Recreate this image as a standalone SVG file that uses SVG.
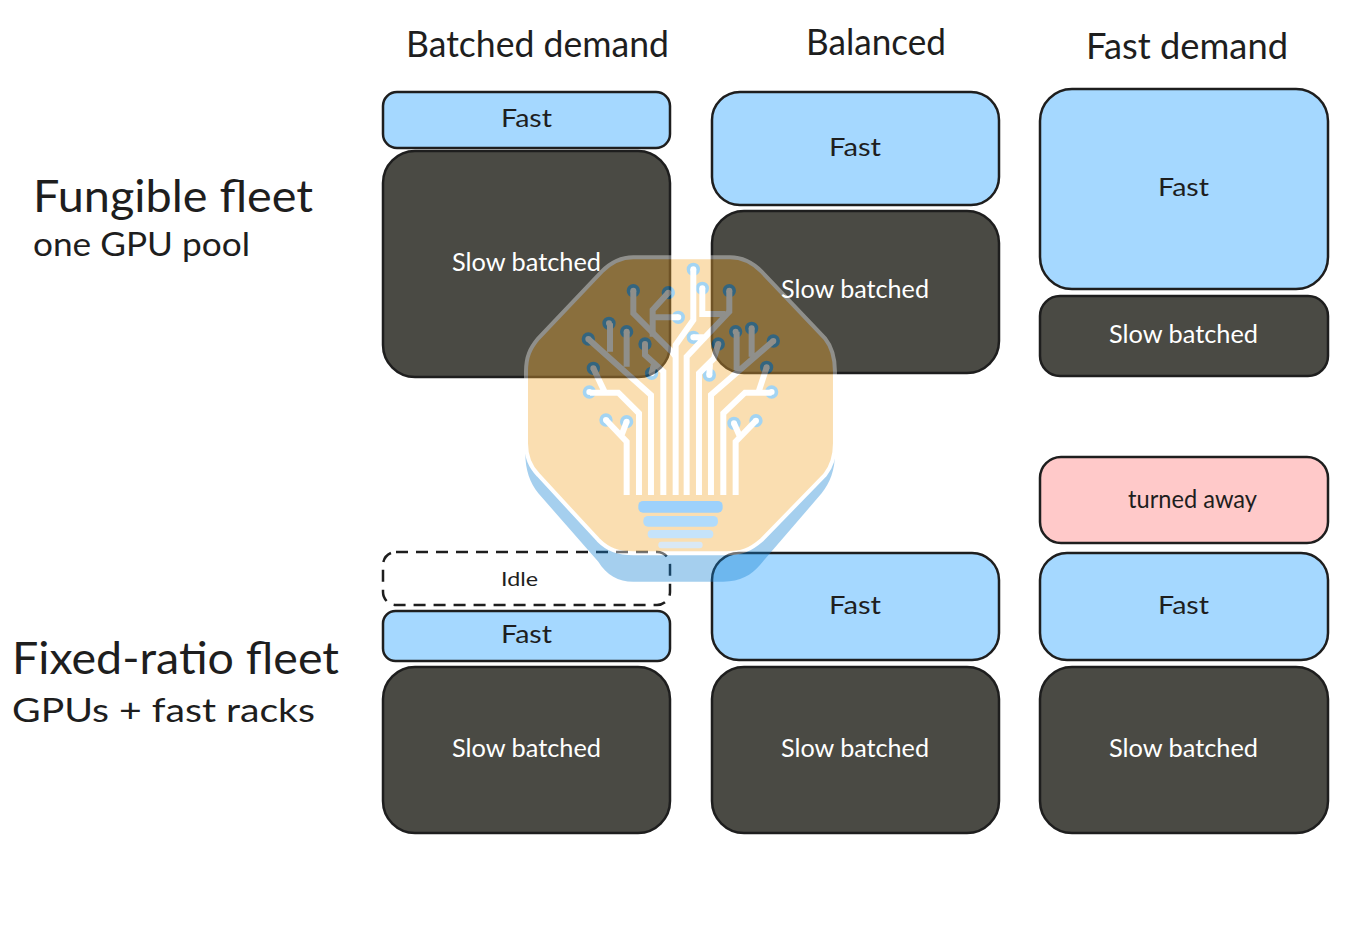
<svg xmlns="http://www.w3.org/2000/svg" width="1358" height="938" viewBox="0 0 1358 938">
<style>
text{font-family:"Lato","Open Sans",sans-serif;fill:#1e1e1e}
.h{font-size:36px}.s{font-size:44px}.u{font-size:33px}.l{font-size:25px}.w{fill:#fff}
.box{stroke:#1e1e1e;stroke-width:2.5}
.fast{fill:#a5d8ff}.slow{fill:#4a4a44}.away{fill:#ffc9c9}
.idle{fill:#fff;stroke-dasharray:12 8}
.tr{fill:none;stroke:#fff;stroke-width:18;stroke-linejoin:miter}
.nd{fill:#fff;stroke:#1091e0;stroke-width:11}
</style>
<rect width="1358" height="938" fill="#fff"/>
<g id="headers">
<text class="h" x="406" y="57" textLength="263" lengthAdjust="spacingAndGlyphs">Batched demand</text>
<text class="h" x="806" y="55" textLength="140" lengthAdjust="spacingAndGlyphs">Balanced</text>
<text class="h" x="1086" y="59" textLength="202" lengthAdjust="spacingAndGlyphs">Fast demand</text>
</g>
<g id="row-labels">
<text class="s" x="33" y="212" textLength="280" lengthAdjust="spacingAndGlyphs">Fungible fleet</text>
<text class="u" x="33" y="256" textLength="217" lengthAdjust="spacingAndGlyphs">one GPU pool</text>
<text class="s" x="12" y="674" textLength="327" lengthAdjust="spacingAndGlyphs">Fixed-ratio fleet</text>
<text class="u" x="12" y="722" textLength="303" lengthAdjust="spacingAndGlyphs">GPUs + fast racks</text>
</g>
<g id="fungible-batched">
<rect class="box fast" x="383" y="92" width="287" height="56" rx="14"/>
<text class="l" x="501" y="127" textLength="51" lengthAdjust="spacingAndGlyphs">Fast</text>
<rect class="box slow" x="383" y="151" width="287" height="226" rx="32"/>
<text class="l w" x="452" y="271" textLength="149" lengthAdjust="spacingAndGlyphs">Slow batched</text>
</g>
<g id="fungible-balanced">
<rect class="box fast" x="712" y="92" width="287" height="113" rx="28"/>
<text class="l" x="829" y="156" textLength="52" lengthAdjust="spacingAndGlyphs">Fast</text>
<rect class="box slow" x="712" y="211" width="287" height="162" rx="32"/>
<text class="l w" x="781" y="298" textLength="148" lengthAdjust="spacingAndGlyphs">Slow batched</text>
</g>
<g id="fungible-fast">
<rect class="box fast" x="1040" y="89" width="288" height="200" rx="32"/>
<text class="l" x="1158" y="196" textLength="51" lengthAdjust="spacingAndGlyphs">Fast</text>
<rect class="box slow" x="1040" y="296" width="288" height="80" rx="20"/>
<text class="l w" x="1109" y="343" textLength="149" lengthAdjust="spacingAndGlyphs">Slow batched</text>
</g>
<g id="fixed-batched">
<rect class="box idle" x="383" y="552" width="287" height="53" rx="13"/>
<text x="501" y="586" font-size="20" textLength="37" lengthAdjust="spacingAndGlyphs">Idle</text>
<rect class="box fast" x="383" y="611" width="287" height="50" rx="12.5"/>
<text class="l" x="501" y="643" textLength="51" lengthAdjust="spacingAndGlyphs">Fast</text>
<rect class="box slow" x="383" y="667" width="287" height="166" rx="32"/>
<text class="l w" x="452" y="757" textLength="149" lengthAdjust="spacingAndGlyphs">Slow batched</text>
</g>
<g id="fixed-balanced">
<rect class="box fast" x="712" y="553" width="287" height="107" rx="27"/>
<text class="l" x="829" y="614" textLength="52" lengthAdjust="spacingAndGlyphs">Fast</text>
<rect class="box slow" x="712" y="667" width="287" height="166" rx="32"/>
<text class="l w" x="781" y="757" textLength="148" lengthAdjust="spacingAndGlyphs">Slow batched</text>
</g>
<g id="fixed-fast">
<rect class="box away" x="1040" y="457" width="288" height="86" rx="21"/>
<text class="l" x="1128" y="508" textLength="129" lengthAdjust="spacingAndGlyphs">turned away</text>
<rect class="box fast" x="1040" y="553" width="288" height="107" rx="27"/>
<text class="l" x="1158" y="614" textLength="51" lengthAdjust="spacingAndGlyphs">Fast</text>
<rect class="box slow" x="1040" y="667" width="288" height="166" rx="32"/>
<text class="l w" x="1109" y="757" textLength="149" lengthAdjust="spacingAndGlyphs">Slow batched</text>
</g>
<g id="logo" opacity="0.38" transform="translate(510 240) scale(0.3333)">
<path fill="#1483d5" d="M46 640 C46 690 60 730 85 760 L265 965 C290 1005 325 1025 370 1025 L640 1025 C690 1025 725 1005 750 975 L935 760 C960 730 975 690 975 640 L975 500 L46 500Z"/>
<path fill="#f2ab34" stroke="#fff" stroke-width="12" d="M48 395 C48 350 60 325 85 295 L275 95 C300 70 330 52 370 52 L660 52 C700 52 730 70 755 95 L945 295 C965 320 975 350 975 395 L975 610 C975 650 965 680 945 705 L755 900 C720 930 695 940 650 940 L370 940 C325 940 295 930 265 900 L85 705 C60 680 48 650 48 610Z"/>
<g class="nd">
<circle cx="550" cy="88" r="14.5"/><circle cx="577" cy="145" r="14.5"/><circle cx="370" cy="152" r="14.5"/><circle cx="475" cy="158" r="14.5"/><circle cx="658" cy="152" r="14.5"/><circle cx="505" cy="232" r="14.5"/>
<circle cx="297" cy="250" r="14.5"/><circle cx="350" cy="275" r="14.5"/><circle cx="235" cy="297" r="14.5"/><circle cx="405" cy="312" r="14.5"/><circle cx="425" cy="400" r="14.5"/><circle cx="250" cy="385" r="14.5"/><circle cx="238" cy="456" r="14.5"/>
<circle cx="288" cy="540" r="14.5"/><circle cx="350" cy="545" r="14.5"/><circle cx="550" cy="292" r="14.5"/>
<circle cx="725" cy="265" r="14.5"/><circle cx="677" cy="275" r="14.5"/><circle cx="790" cy="303" r="14.5"/><circle cx="625" cy="312" r="14.5"/><circle cx="598" cy="405" r="14.5"/><circle cx="770" cy="382" r="14.5"/><circle cx="785" cy="456" r="14.5"/><circle cx="738" cy="542" r="14.5"/><circle cx="672" cy="550" r="14.5"/>
</g>
<g class="tr">
<path d="M350 765V605L288 540M335 585L350 545"/>
<path d="M387 765V520L325 458H240M285 458L250 385"/>
<path d="M423 765V465L235 297M300 335V250M350 380V275"/>
<path d="M460 765V395L405 345V312M432 372L425 400"/>
<path d="M497 765V350L488 338L370 220V152M497 350V315L550 240V88"/>
<path d="M428 290V210L475 158M428 232H505"/>
<path d="M530 765V350L658 215V152M590 292H550M577 145V222H645"/>
<path d="M567 765V400L612 355L625 312M600 372L598 405"/>
<path d="M603 765V465L790 303M680 390V275M725 350V265"/>
<path d="M640 765V520L705 458H785M745 458L770 382"/>
<path d="M677 765V605L738 542M690 590L672 550"/>
</g>
<rect x="385" y="783" width="253" height="35" rx="14" fill="#0089f5"/>
<rect x="400" y="828" width="224" height="32" rx="14" fill="#32a3f7"/>
<rect x="413" y="870" width="197" height="25" rx="12" fill="#69b6f2"/>
<rect x="445" y="905" width="133" height="20" rx="9" fill="#9ec5e5"/>
</g>
</svg>
